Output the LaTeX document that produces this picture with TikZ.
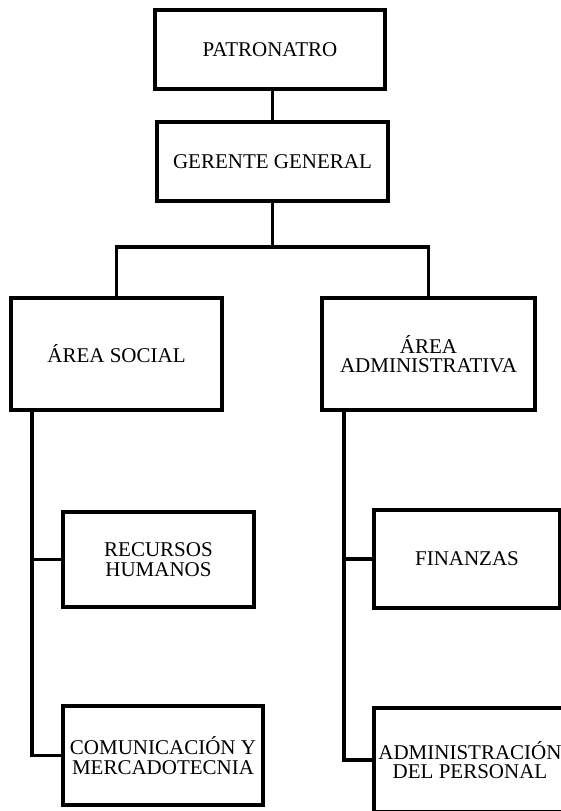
\documentclass[tikz,border=0pt]{standalone}
\usepackage{fontspec}
\setmainfont{Liberation Serif}
\begin{document}
\begin{tikzpicture}[x=1pt,y=-1pt,
  box/.style={draw=black,line width=3.5pt,rectangle,inner sep=0pt,align=center,
    font=\fontsize{21}{19.5}\selectfont,text=black},
  link/.style={draw=black,line width=3.5pt}]
\useasboundingbox (0,0) rectangle (561,811);
\clip (0,0) rectangle (561,811);
\node[box,minimum width=230pt,minimum height=79pt] (pat) at (270,49.5) {PATRONATRO};
\node[box,minimum width=231pt,minimum height=79pt] (ger) at (272.5,161.5) {GERENTE GENERAL};
\node[box,minimum width=211pt,minimum height=112pt] (soc) at (116.5,354) {ÁREA SOCIAL};
\node[box,minimum width=213pt,minimum height=112pt] (adm) at (428.5,354) {ÁREA\\ADMINISTRATIVA};
\node[box,minimum width=191pt,minimum height=95pt] (rh) at (158.5,559.5) {RECURSOS\\HUMANOS};
\node[box,minimum width=200pt,minimum height=99pt] (com) at (163,755.5) {COMUNICACIÓN Y\\MERCADOTECNIA};
\node[box,minimum width=186pt,minimum height=98pt] (fin) at (467,559) {FINANZAS};
\node[box,minimum width=192pt,minimum height=104pt] (adp) at (470,760) {ADMINISTRACIÓN\\DEL PERSONAL};
\coordinate (hub) at (272.5,247);
\coordinate (ls) at (32,410);
\coordinate (rs) at (344,410);
\draw[link] (ger.north) -- (ger.north |- pat.south);
\draw[link] (ger.south) -- (hub);
\draw[link,line join=miter] (soc.north) |- (hub) -| (adm.north);
\draw[link] (ls) |- (rh.west);
\draw[link] (ls) |- (com.west);
\draw[link] (rs) |- (fin.west);
\draw[link] (rs) |- (adp.west);
\end{tikzpicture}
\end{document}
